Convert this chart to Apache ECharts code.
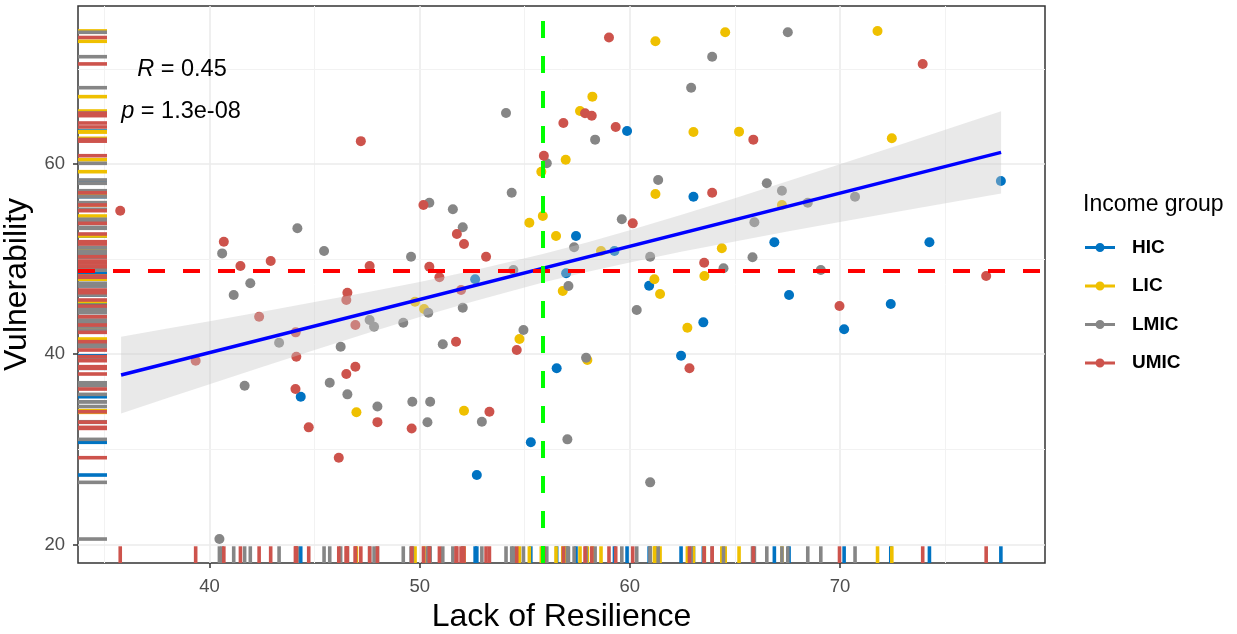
<!DOCTYPE html>
<html>
<head>
<meta charset="utf-8">
<script src="https://cdn.jsdelivr.net/npm/echarts@6/dist/echarts.min.js"></script>
<style>
html,body{margin:0;padding:0;background:#fff;}
#c{width:1237px;height:634px;}
</style>
</head>
<body>
<div id="c"></div>
<script>
// ---- data ----
const groups = ['HIC', 'LIC', 'LMIC', 'UMIC'];
const groupColors = ['#0073C2', '#EFC000', '#868686', '#CD534C'];

const hicPoints = [[59.87,63.47],[63.03,56.56],[77.66,58.21],[66.88,51.77],[74.26,51.77],[67.58,46.22],[72.42,45.28],[70.2,42.62],[57.44,52.43],[59.27,50.85],[60.92,47.2],[63.5,43.35],[62.44,39.84],[52.64,47.88],[56.97,48.51],[56.52,38.52],[44.34,35.53],[55.29,30.74],[52.72,27.3]];

const licPoints = [[61.22,72.9],[64.54,73.85],[71.79,73.99],[58.22,67.08],[57.63,65.57],[63.03,63.36],[65.2,63.4],[72.47,62.7],[56.95,60.45],[55.79,59.19],[61.22,56.85],[67.24,55.69],[64.38,51.14],[55.22,53.83],[55.86,54.53],[56.49,52.43],[58.63,50.85],[63.55,48.22],[61.17,47.88],[61.44,46.33],[62.74,42.79],[49.78,45.52],[50.21,44.75],[56.81,46.65],[54.75,41.6],[57.98,39.39],[46.99,33.89],[52.11,34.06]];

const lmicPoints = [[63.92,71.28],[62.92,68.02],[54.11,65.36],[58.35,62.56],[56.05,60.07],[61.35,58.32],[54.38,56.98],[50.46,55.93],[67.52,73.85],[66.52,57.97],[67.24,57.19],[70.72,56.56],[68.47,55.93],[65.93,53.87],[65.84,50.19],[64.46,49.03],[69.09,48.85],[51.58,55.24],[52.05,53.34],[59.62,54.19],[57.35,51.24],[60.97,50.25],[60.33,44.65],[49.59,50.25],[54.46,48.85],[50.41,44.36],[52.05,44.89],[49.22,43.31],[57.08,47.17],[54.94,42.54],[51.1,41.04],[57.92,39.63],[44.18,53.24],[40.6,50.6],[45.45,50.85],[41.94,47.46],[41.15,46.22],[47.62,43.6],[47.83,42.89],[43.31,41.21],[46.24,40.79],[41.67,36.69],[45.72,37.0],[46.56,35.78],[47.99,34.5],[40.47,20.57],[49.65,35.0],[50.5,35.0],[50.37,32.84],[52.96,32.9],[57.03,31.05],[60.97,26.53]];

const umicPoints = [[47.2,62.4],[59.01,73.3],[57.87,65.33],[58.19,65.08],[56.84,64.31],[59.33,63.89],[55.91,60.87],[63.92,56.98],[50.18,55.69],[73.94,70.52],[65.88,62.56],[76.96,48.22],[69.98,45.07],[51.77,52.64],[52.11,51.59],[60.14,53.76],[63.54,49.62],[62.84,38.52],[53.16,50.25],[50.46,49.2],[50.94,48.09],[51.97,46.75],[54.62,40.44],[51.73,41.32],[35.75,55.09],[40.68,51.83],[41.47,49.27],[42.91,49.8],[47.62,49.27],[46.56,46.47],[46.51,45.7],[42.36,43.94],[46.94,43.07],[44.1,42.3],[44.13,39.74],[39.34,39.32],[46.51,37.92],[46.94,38.69],[44.09,36.34],[47.99,32.86],[44.72,32.31],[46.15,29.12],[49.62,32.2],[53.32,33.95]];

// regression line and its confidence band
const fitX = [35.79, 77.67];
const fitY = [37.81, 61.22];
const bandX    = [35.79, 38, 40, 42.5, 45, 47.5, 50, 52.5, 55.86, 58, 60, 62.5, 65, 67.5, 70, 73, 77.67];
const bandLow  = [33.78, 35.40, 36.85, 38.65, 40.44, 42.20, 43.90, 45.52, 47.53, 48.68, 49.65, 50.80, 51.86, 52.90, 53.90, 55.08, 56.89];
const bandHigh = [41.84, 42.70, 43.47, 44.47, 45.48, 46.52, 47.60, 48.78, 50.53, 51.78, 53.03, 54.68, 56.40, 58.18, 59.96, 62.14, 65.55];

// mean reference lines
const meanX = 55.86;
const meanY = 48.78;

// axes
const xRange = [33.74, 79.76];
const yRange = [18.05, 76.61];
const xTicks = [40, 50, 60, 70];
const xMinor = [35, 45, 55, 65, 75];
const yTicks = [20, 40, 60];
const yMinor = [30, 50, 70];

const corrR = '0.45';
const corrP = '1.3e-08';

// ---- chart ----
const FONT = 'Liberation Sans, Arial, sans-serif';
const chart = echarts.init(document.getElementById('c'), null, {renderer: 'canvas'});
const allPoints = [hicPoints, licPoints, lmicPoints, umicPoints];

const gridLines = [];
xTicks.forEach(v => gridLines.push({xAxis: v, lineStyle: {color: '#EBEBEB', width: 1.6, type: 'solid'}}));
xMinor.forEach(v => gridLines.push({xAxis: v, lineStyle: {color: '#F2F2F2', width: 1, type: 'solid'}}));
yTicks.forEach(v => gridLines.push({yAxis: v, lineStyle: {color: '#EBEBEB', width: 1.6, type: 'solid'}}));
yMinor.forEach(v => gridLines.push({yAxis: v, lineStyle: {color: '#F2F2F2', width: 1, type: 'solid'}}));

const series = [];
// grid lines
series.push({
  type: 'scatter', name: '_grid', data: [[meanX, meanY]], symbolSize: 0, silent: true, z: 1,
  markLine: {silent: true, z: 1, symbol: 'none', label: {show: false}, animation: false, data: gridLines}
});
// points
groups.forEach((g, i) => {
  series.push({
    type: 'scatter', name: g, data: allPoints[i], symbol: 'circle', symbolSize: 10,
    itemStyle: {color: groupColors[i], opacity: 1}, z: 3, silent: true
  });
});
// confidence band
series.push({
  type: 'custom', name: '_band', data: bandX.map((x, i) => [x, bandLow[i], bandHigh[i]]), z: 4, silent: true,
  renderItem: function (params, api) {
    if (params.dataIndex !== 0) return null;
    const pts = [];
    for (let i = 0; i < bandX.length; i++) pts.push(api.coord([bandX[i], bandHigh[i]]));
    for (let i = bandX.length - 1; i >= 0; i--) pts.push(api.coord([bandX[i], bandLow[i]]));
    return {type: 'polygon', shape: {points: pts}, style: {fill: 'rgba(200,200,200,0.4)'}};
  }
});
// fitted line
series.push({
  type: 'line', name: '_fit', data: fitX.map((x, i) => [x, fitY[i]]), showSymbol: false, symbol: 'none',
  lineStyle: {color: '#0000FF', width: 3.5}, z: 5, silent: true
});
// rugs
groups.forEach((g, i) => {
  series.push({
    type: 'custom', name: '_rug' + g, data: allPoints[i], z: 6, silent: true,
    renderItem: function (params, api) {
      const p = api.coord([api.value(0), api.value(1)]);
      const cs = params.coordSys;
      const bottom = cs.y + cs.height;
      return {type: 'group', children: [
        {type: 'line', shape: {x1: cs.x, y1: p[1], x2: cs.x + cs.width * 0.03, y2: p[1]},
         style: {stroke: groupColors[i], lineWidth: 3.6}},
        {type: 'line', shape: {x1: p[0], y1: bottom, x2: p[0], y2: bottom - cs.height * 0.03},
         style: {stroke: groupColors[i], lineWidth: 3.6}}
      ]};
    }
  });
});
// mean lines
series.push({
  type: 'scatter', name: '_means', data: [[meanX, meanY]], symbolSize: 0, silent: true, z: 10,
  markLine: {silent: true, z: 10, symbol: 'none', label: {show: false}, animation: false, data: [
    {yAxis: meanY, lineStyle: {color: '#FF0000', width: 4, type: [17, 18], cap: 'butt'}},
    {xAxis: meanX, lineStyle: {color: '#00FF00', width: 4, type: [17, 18], cap: 'butt'}}
  ]}
});

const legendIcon = 'path://M0,3.5L30,3.5L30,6.5L0,6.5Z M10.5,5A4.5,4.5,0,1,1,19.5,5A4.5,4.5,0,1,1,10.5,5Z';

chart.setOption({
  animation: false,
  backgroundColor: '#fff',
  textStyle: {fontFamily: FONT},
  grid: {left: 78, right: 192, top: 6, bottom: 71, outerBoundsMode: 'none', containLabel: false,
         show: true, borderColor: '#333', borderWidth: 1.5, backgroundColor: 'transparent'},
  xAxis: {
    type: 'value', min: xRange[0], max: xRange[1],
    name: 'Lack of Resilience', nameLocation: 'middle', nameGap: 37,
    nameTextStyle: {fontSize: 32, color: '#000', fontFamily: FONT},
    axisLine: {show: false},
    axisTick: {show: true, customValues: xTicks, length: 5, lineStyle: {color: '#333', width: 1.5}},
    axisLabel: {show: true, customValues: xTicks, fontSize: 18.5, color: '#4D4D4D', margin: 14, fontFamily: FONT},
    splitLine: {show: false}
  },
  yAxis: {
    type: 'value', min: yRange[0], max: yRange[1],
    name: 'Vulnerability', nameLocation: 'middle', nameGap: 37, nameRotate: 90,
    nameTextStyle: {fontSize: 32, color: '#000', fontFamily: FONT},
    axisLine: {show: false},
    axisTick: {show: true, customValues: yTicks, length: 5, lineStyle: {color: '#333', width: 1.5}},
    axisLabel: {show: true, customValues: yTicks, fontSize: 18.5, color: '#4D4D4D', margin: 13, fontFamily: FONT, padding: [4, 0, 0, 0]},
    splitLine: {show: false}
  },
  legend: {
    data: groups, orient: 'vertical', left: 1085, top: 238, padding: 0,
    itemWidth: 30, itemHeight: 9, itemGap: 19.5, icon: legendIcon,
    selectedMode: false,
    textStyle: {fontSize: 19, fontWeight: 'bold', color: '#000', fontFamily: FONT, padding: [0, 0, 0, 12]}
  },
  graphic: [
    {type: 'text', x: 1083, y: 205, z: 100, silent: true,
     style: {text: 'Income group', fontSize: 23, fontFamily: FONT, fill: '#000', align: 'left', verticalAlign: 'middle'}},
    {type: 'text', x: 182, y: 69.5, z: 100, silent: true,
     style: {text: '{i|R}{n| = ' + corrR + '}', align: 'center', verticalAlign: 'middle', fontSize: 23.5, fontFamily: FONT, fill: '#000',
       rich: {i: {fontStyle: 'italic', fontSize: 23.5, fontFamily: FONT, fill: '#000'}, n: {fontSize: 23.5, fontFamily: FONT, fill: '#000'}}}},
    {type: 'text', x: 181, y: 111.5, z: 100, silent: true,
     style: {text: '{i|p}{n| = ' + corrP + '}', align: 'center', verticalAlign: 'middle', fontSize: 23.5, fontFamily: FONT, fill: '#000',
       rich: {i: {fontStyle: 'italic', fontSize: 23.5, fontFamily: FONT, fill: '#000'}, n: {fontSize: 23.5, fontFamily: FONT, fill: '#000'}}}}
  ],
  series: series
});
</script>
</body>
</html>
